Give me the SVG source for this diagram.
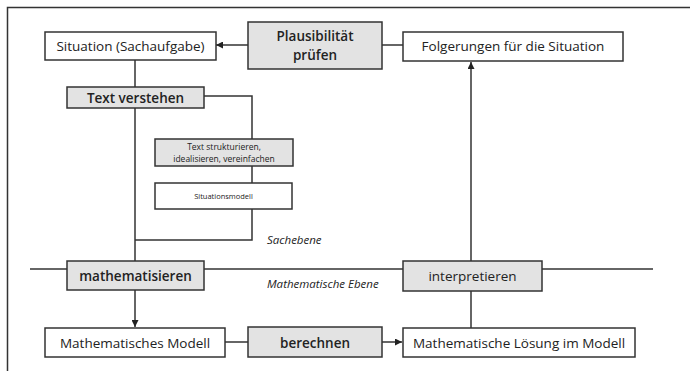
<svg xmlns="http://www.w3.org/2000/svg" width="691" height="371" viewBox="0 0 691 371">
<defs>
<style>
.bg{fill:#ffffff}
.frame{stroke:#333;stroke-width:1.5;fill:none}
.box{fill:#ffffff;stroke:#333;stroke-width:1.5}
.gbox{fill:#e3e3e3;stroke:#333;stroke-width:1.5}
.ln{stroke:#333;stroke-width:1.5;fill:none}
.t{font-family:"Open Sans","DejaVu Sans",sans-serif;font-size:13.5px;fill:#222;text-anchor:middle}
.tb{font-weight:600}
.ts{font-family:"Open Sans","DejaVu Sans",sans-serif;font-size:8.5px;fill:#222;text-anchor:middle}
.tx{font-family:"Open Sans","DejaVu Sans",sans-serif;font-size:7.5px;fill:#222;text-anchor:middle}
.ti{font-family:"Open Sans","DejaVu Sans",sans-serif;font-size:11.5px;font-style:italic;fill:#222}
</style>
<marker id="arr" viewBox="0 0 10 10" refX="10" refY="5" markerWidth="7" markerHeight="7" markerUnits="userSpaceOnUse" orient="auto">
<path d="M0,0 L10,5 L0,10 z" fill="#222"/>
</marker>
</defs>
<rect class="bg" x="0" y="0" width="691" height="371"/>
<path class="frame" d="M7.5,371 V7.5 H690"/>

<g id="connectors">
<line class="ln" x1="30" y1="269" x2="653" y2="269"/>
<line class="ln" x1="248" y1="45" x2="216" y2="45" marker-end="url(#arr)"/>
<line class="ln" x1="382" y1="45" x2="403" y2="45"/>
<line class="ln" x1="135" y1="60" x2="135" y2="87"/>
<polyline class="ln" points="204,96 252,96 252,139"/>
<line class="ln" x1="252" y1="166" x2="252" y2="183"/>
<polyline class="ln" points="252,209 252,240 135,240"/>
<line class="ln" x1="135" y1="108" x2="135" y2="261"/>
<line class="ln" x1="135" y1="290" x2="135" y2="327" marker-end="url(#arr)"/>
<line class="ln" x1="225" y1="342" x2="248" y2="342"/>
<line class="ln" x1="382" y1="342" x2="402" y2="342" marker-end="url(#arr)"/>
<line class="ln" x1="471" y1="328" x2="471" y2="291"/>
<line class="ln" x1="471" y1="261" x2="471" y2="62" marker-end="url(#arr)"/>
</g>

<g id="situation">
<rect class="box" x="45" y="32" width="171" height="28"/>
<text class="t" x="130.5" y="51">Situation (Sachaufgabe)</text>
</g>
<g id="plausibilitaet">
<rect class="gbox" x="248" y="22" width="134" height="47"/>
<text class="t tb" x="315" y="41">Plausibilität</text>
<text class="t tb" x="315" y="59.5">prüfen</text>
</g>
<g id="folgerungen">
<rect class="box" x="403" y="32" width="220" height="29"/>
<text class="t" x="513" y="51">Folgerungen für die Situation</text>
</g>
<g id="text-verstehen">
<rect class="gbox" x="67" y="87" width="137" height="21"/>
<text class="t tb" x="135.5" y="102.5">Text verstehen</text>
</g>
<g id="text-strukturieren">
<rect class="gbox" x="155" y="139" width="138" height="27"/>
<text class="ts" x="224" y="150">Text strukturieren,</text>
<text class="ts" x="224" y="162">idealisieren, vereinfachen</text>
</g>
<g id="situationsmodell">
<rect class="box" x="155" y="183" width="137" height="26"/>
<text class="tx" x="223.5" y="199">Situationsmodell</text>
</g>
<text id="sachebene" class="ti" x="267" y="244">Sachebene</text>
<g id="mathematisieren">
<rect class="gbox" x="67" y="261" width="137" height="29"/>
<text class="t tb" x="135.5" y="280.5">mathematisieren</text>
</g>
<text id="math-ebene" class="ti" x="267" y="288">Mathematische Ebene</text>
<g id="interpretieren">
<rect class="gbox" x="403" y="261" width="139" height="30"/>
<text class="t" x="472.5" y="281">interpretieren</text>
</g>
<g id="math-modell">
<rect class="box" x="45" y="328" width="180" height="29"/>
<text class="t" x="135" y="347.5">Mathematisches Modell</text>
</g>
<g id="berechnen">
<rect class="gbox" x="248" y="327" width="134" height="30"/>
<text class="t tb" x="315" y="347.5">berechnen</text>
</g>
<g id="loesung">
<rect class="box" x="403" y="328" width="232" height="29"/>
<text class="t" x="519" y="347.5">Mathematische Lösung im Modell</text>
</g>
</svg>
